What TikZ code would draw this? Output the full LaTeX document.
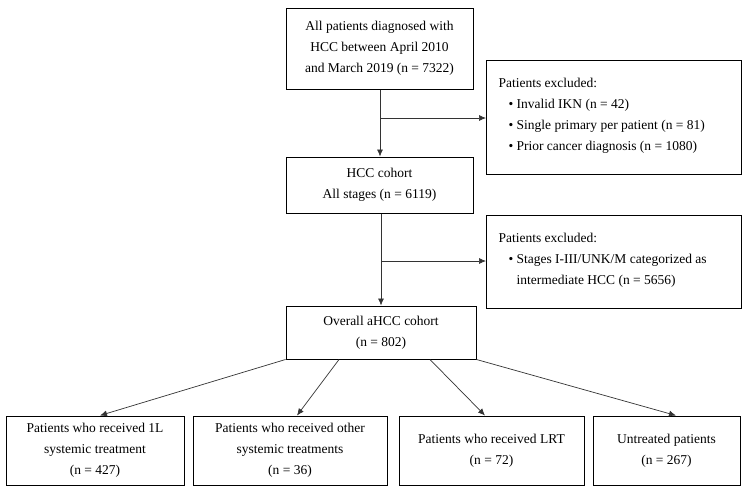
\documentclass[tikz,border=0pt]{standalone}
\usepackage{fontspec}
\setmainfont{Liberation Serif}
\usetikzlibrary{arrows.meta}
\begin{document}
\begin{tikzpicture}[x=1pt,y=-1pt,
  box/.style={draw,line width=1pt,inner sep=0pt},
  arr/.style={draw=black!80,line width=0.7pt,-{Latex[length=7pt,width=6pt]}},
  every node/.style={font=\fontsize{13.5}{21}\selectfont}]
\useasboundingbox (0,0) rectangle (748,493);
\fill[white] (0,0) rectangle (748,493);
\node[box,minimum width=187pt,minimum height=81pt,align=center] (top) at (379.5,48.5) {All patients diagnosed with\\HCC between April 2010\\and March 2019 (n = 7322)};
\node[box,minimum width=255pt,minimum height=114pt,align=left,anchor=north west] (ex1) at (486,60) {};
\node[anchor=north west,align=left] (ex1t) at (495,75) {Patients excluded:\\\hspace*{10pt}\textbullet\ Invalid IKN (n = 42)\\\hspace*{10pt}\textbullet\ Single primary per patient (n = 81)\\\hspace*{10pt}\textbullet\ Prior cancer diagnosis (n = 1080)};
\node[box,minimum width=187pt,minimum height=56pt,align=center] (hcc) at (379.5,185) {HCC cohort\\All stages (n = 6119)};
\node[box,minimum width=255pt,minimum height=93pt,anchor=north west] (ex2) at (486,215) {};
\node[anchor=north west,align=left] (ex2t) at (495,230) {Patients excluded:\\\hspace*{10pt}\textbullet\ Stages I-III/UNK/M categorized as\\\hspace*{10pt}\phantom{\textbullet\ }intermediate HCC (n = 5656)};
\node[box,minimum width=190pt,minimum height=53pt,align=center] (ahcc) at (381,332.5) {Overall aHCC cohort\\(n = 802)};
\node[box,minimum width=178pt,minimum height=69pt,align=center] (b1) at (95,450.5) {Patients who received 1L\\systemic treatment\\(n = 427)};
\node[box,minimum width=194pt,minimum height=69pt,align=center] (b2) at (290,450.5) {Patients who received other\\systemic treatments\\(n = 36)};
\node[box,minimum width=185pt,minimum height=69pt,align=center] (b3) at (491.5,450.5) {Patients who received LRT\\(n = 72)};
\node[box,minimum width=147pt,minimum height=69pt,align=center] (b4) at (666.5,450.5) {Untreated patients\\(n = 267)};
\coordinate (j1) at (380,118);
\coordinate (j2) at (381,261);
\draw[arr] (top.south -| j1) -- (hcc.north -| j1);
\draw[arr] (j1) -- (j1 -| ex1.west);
\draw[arr] (hcc.south -| j2) -- (ahcc.north -| j2);
\draw[arr] (j2) -- (j2 -| ex2.west);
\draw[arr] (ahcc.south west) -- (b1.north -| 100,0);
\draw[arr] (ahcc.south -| 339,0) -- (b2.north -| 297,0);
\draw[arr] (ahcc.south -| 430,0) -- (b3.north -| 485,0);
\draw[arr] (ahcc.south east) -- (b4.north -| 676,0);
\end{tikzpicture}
\end{document}
